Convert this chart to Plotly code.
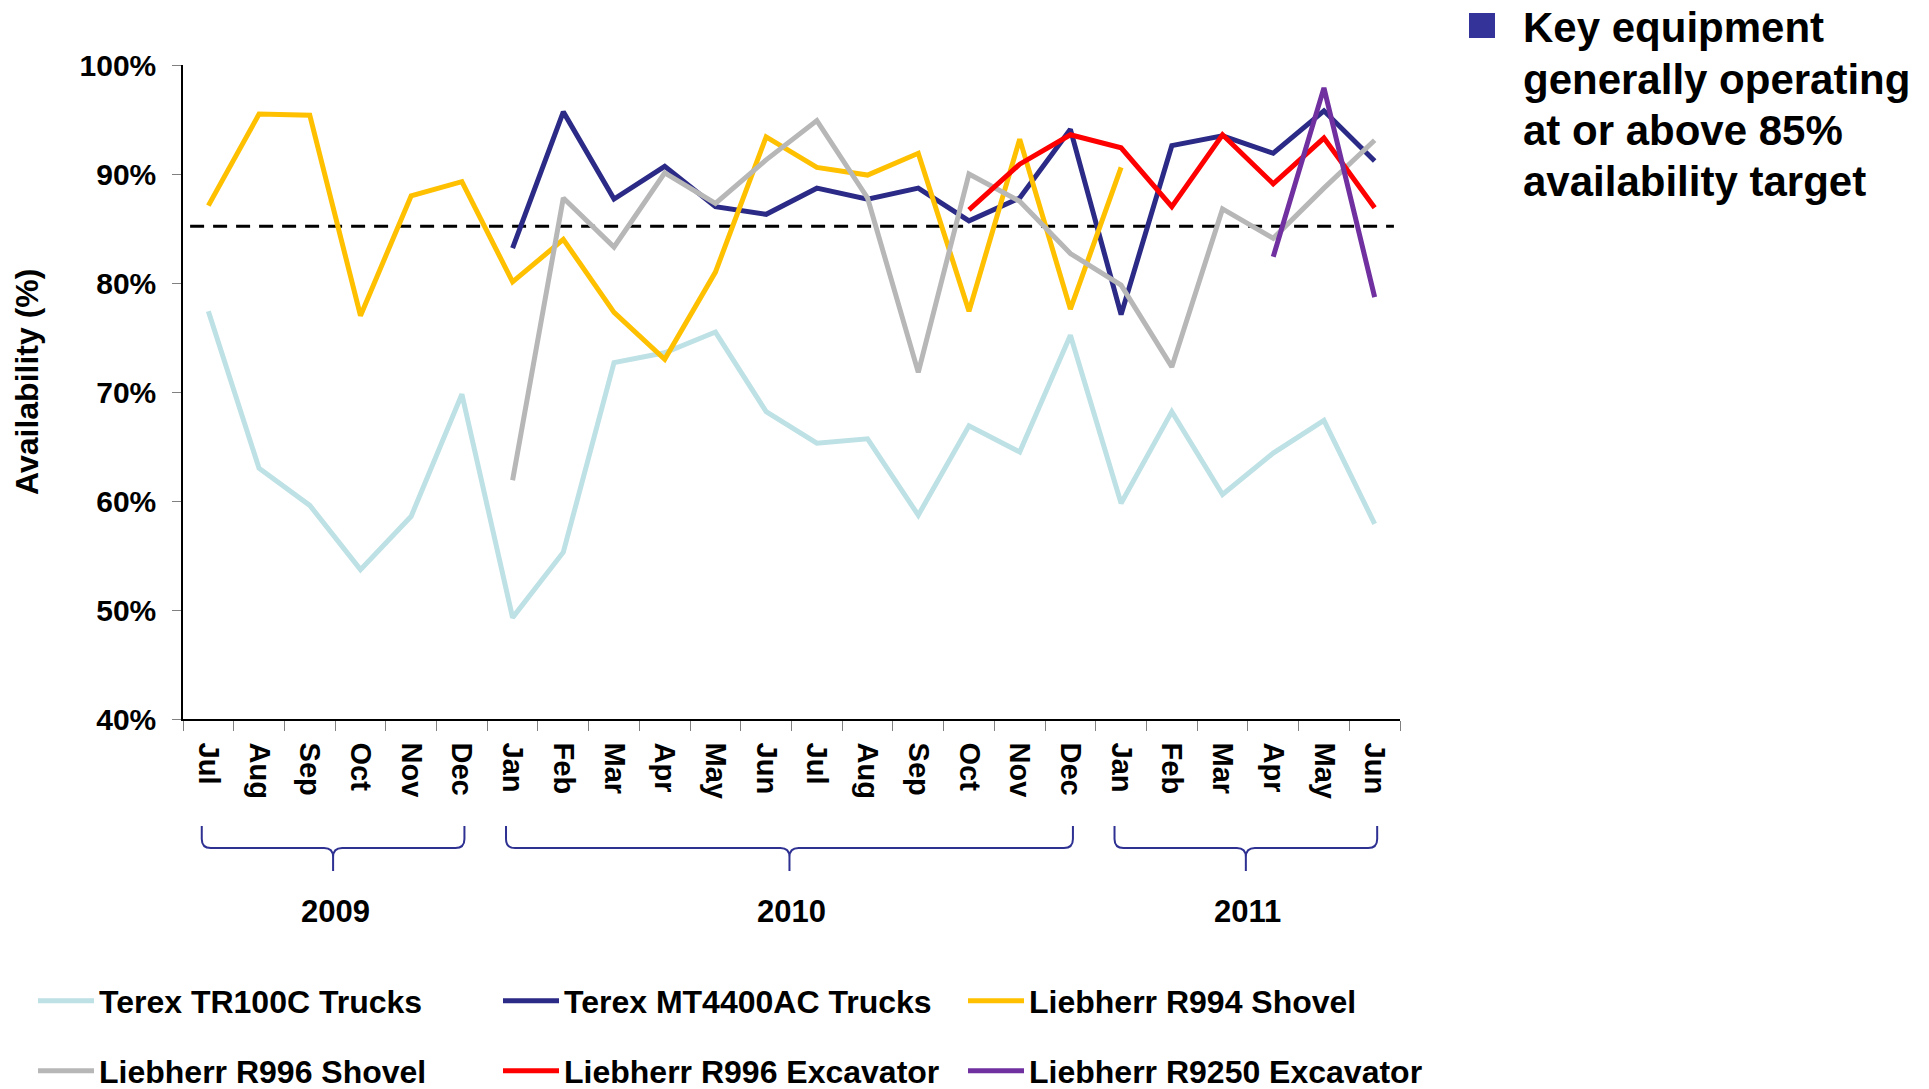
"""
Disponibilidad mensual de equipos clave (Jul 2009 – Jun 2011)
Gráfico de líneas con línea objetivo y llaves por año.
"""

import plotly.graph_objects as go

# ──────────────────────────────────────────────
#  Datos
# ──────────────────────────────────────────────
MONTHS = ["Jul", "Aug", "Sep", "Oct", "Nov", "Dec",
          "Jan", "Feb", "Mar", "Apr", "May", "Jun", "Jul", "Aug", "Sep", "Oct", "Nov", "Dec",
          "Jan", "Feb", "Mar", "Apr", "May", "Jun"]
MONTH_YEARS = [2009] * 6 + [2010] * 12 + [2011] * 6
YEARS = [2009, 2010, 2011]

TR100C = [77.4, 63.0, 59.6, 53.7, 58.6, 69.8,
          49.3, 55.3, 72.7, 73.6, 75.5, 68.2, 65.3, 65.7, 58.7, 66.9, 64.5, 75.2,
          59.8, 68.2, 60.6, 64.4, 67.4, 57.9]
MT4400AC = [None] * 6 + [83.2, 95.7, 87.7, 90.7, 87.0, 86.3, 88.7, 87.7, 88.7, 85.7, 87.8, 94.1,
                         77.1, 92.6, 93.5, 91.9, 95.8, 91.2]
R994_SHOVEL = [87.1, 95.5, 95.4, 77.0, 88.0, 89.3,
               80.1, 84.0, 77.3, 73.0, 81.0, 93.4, 90.6, 89.9, 91.9, 77.4, 93.2, 77.6,
               90.6] + [None] * 5
R996_SHOVEL = [None] * 6 + [61.9, 87.8, 83.3, 90.1, 87.3, 91.3, 94.9, 87.8, 71.8, 90.0, 87.5, 82.7,
                            79.8, 72.3, 86.8, 84.1, 88.7, 93.1]
R996_EXCAVATOR = [None] * 15 + [86.7, 90.9, 93.6, 92.4, 87.0, 93.6, 89.1, 93.3, 86.9]
R9250_EXCAVATOR = [None] * 21 + [82.4, 97.9, 78.7]

TARGET = 85.2

SERIES = [
    ("Terex TR100C Trucks", TR100C, "#BDE1E5"),
    ("Terex MT4400AC Trucks", MT4400AC, "#2B2A86"),
    ("Liebherr R994 Shovel", R994_SHOVEL, "#FFC000"),
    ("Liebherr R996 Shovel", R996_SHOVEL, "#B7B7B7"),
    ("Liebherr R996 Excavator", R996_EXCAVATOR, "#FF0000"),
    ("Liebherr R9250 Excavator", R9250_EXCAVATOR, "#7030A0"),
]

CALLOUT_LINES = ["Key equipment", "generally operating", "at or above 85%", "availability target"]

# ──────────────────────────────────────────────
#  Geometría (px) — la página añade 8 px de margen al body
# ──────────────────────────────────────────────
W, H = 1929, 1089
OFF = 8
PW, PH = 1217, 654
M_L, M_T = 183 - OFF, 65 - OFF
M_R, M_B = W - M_L - PW, H - M_T - PH
FONT = "Liberation Sans, Arial, sans-serif"
BRACE_COLOR = "#2E3192"
N = len(MONTHS)


def px_x(px):
    """x de página → coordenada paper."""
    return (px - OFF - M_L) / PW


def px_y(py):
    """y de página → coordenada paper."""
    return (H - M_B - (py - OFF)) / PH


def idx_x(i):
    return (i + 0.5) / N


keys = [f"{m} {y}" for m, y in zip(MONTHS, MONTH_YEARS)]

fig = go.Figure()

for i, (name, values, color) in enumerate(SERIES):
    fig.add_trace(go.Scatter(
        x=keys, y=values, name=name, mode="lines",
        line=dict(color=color, width=5),
        legend="legend" if i < 3 else "legend2",
    ))

# ── Línea objetivo ──
fig.add_shape(type="line", xref="x", yref="y", x0=-0.36, x1=23.38, y0=TARGET, y1=TARGET,
              line=dict(color="black", width=3, dash="14px,9px"), layer="below")

# ── Llaves y años ──
y_top, y_mid, y_tip = px_y(826), px_y(848), px_y(871)
rx, ry = 9 / PW, 9 / PH
for year in YEARS:
    idx = [i for i, y in enumerate(MONTH_YEARS) if y == year]
    x0, x1 = idx_x(idx[0] - 0.13), idx_x(idx[-1] + 0.05)
    xm = (x0 + x1) / 2
    path = (
        f"M{x0},{y_top} L{x0},{y_mid + ry} Q{x0},{y_mid} {x0 + rx},{y_mid} "
        f"L{xm - rx},{y_mid} Q{xm},{y_mid} {xm},{y_mid - ry} L{xm},{y_tip} "
        f"M{xm},{y_mid - ry} Q{xm},{y_mid} {xm + rx},{y_mid} "
        f"L{x1 - rx},{y_mid} Q{x1},{y_mid} {x1},{y_mid + ry} L{x1},{y_top}"
    )
    fig.add_shape(type="path", xref="paper", yref="paper", path=path,
                  line=dict(color=BRACE_COLOR, width=2))
    fig.add_annotation(xref="paper", yref="paper", x=(idx_x(idx[0]) + idx_x(idx[-1])) / 2,
                       y=px_y(911), text=f"<b>{year}</b>", showarrow=False,
                       font=dict(size=31, color="black", family=FONT),
                       xanchor="center", yanchor="middle")

# ── Título eje Y ──
fig.add_annotation(xref="paper", yref="paper", x=px_x(27), y=px_y(382),
                   text="<b>Availability (%)</b>", textangle=-90, showarrow=False,
                   font=dict(size=32, color="black", family=FONT),
                   xanchor="center", yanchor="middle")

# ── Mensaje lateral ──
fig.add_shape(type="rect", xref="paper", yref="paper",
              x0=px_x(1469), x1=px_x(1495), y0=px_y(38), y1=px_y(13),
              fillcolor="#333399", line_width=0)
for k, line in enumerate(CALLOUT_LINES):
    fig.add_annotation(xref="paper", yref="paper", x=px_x(1521), y=px_y(28 + k * 51.2),
                       text=f"<b>{line}</b>", showarrow=False, align="left",
                       font=dict(size=42, color="black", family=FONT),
                       xanchor="left", yanchor="middle")

legend_style = dict(
    orientation="h", xanchor="left", yanchor="middle", x=px_x(33),
    font=dict(size=32, color="black", family=FONT, weight="bold"),
    entrywidth=394, entrywidthmode="pixels", itemwidth=56,
    bgcolor="rgba(0,0,0,0)", traceorder="normal",
)

fig.update_layout(
    width=W, height=H,
    margin=dict(l=M_L, r=M_R, t=M_T, b=M_B, autoexpand=False),
    paper_bgcolor="white", plot_bgcolor="white",
    font=dict(family=FONT, color="black"),
    showlegend=True,
    legend=dict(**legend_style, y=px_y(1001)),
    legend2=dict(**legend_style, y=px_y(1071)),
    xaxis=dict(
        type="category", range=[-0.5, N - 0.5],
        tickmode="array", tickvals=keys, ticktext=MONTHS, tickangle=90,
        tickson="boundaries", ticks="outside", ticklen=10, tickcolor="#808080",
        ticklabelstandoff=16,
        tickfont=dict(size=29, color="black", family=FONT, weight="bold"),
        showline=True, linecolor="black", linewidth=1.5,
        showgrid=False, zeroline=False, fixedrange=True,
    ),
    yaxis=dict(
        range=[40, 100], tickvals=[40, 50, 60, 70, 80, 90, 100],
        ticktext=[f"{v}%" for v in [40, 50, 60, 70, 80, 90, 100]],
        ticks="outside", ticklen=9, tickcolor="#808080", ticklabelstandoff=10,
        tickfont=dict(size=30, color="black", family=FONT, weight="bold"),
        showline=True, linecolor="black", linewidth=1.5,
        showgrid=False, zeroline=False, fixedrange=True,
    ),
)

fig.write_html("out.html")
